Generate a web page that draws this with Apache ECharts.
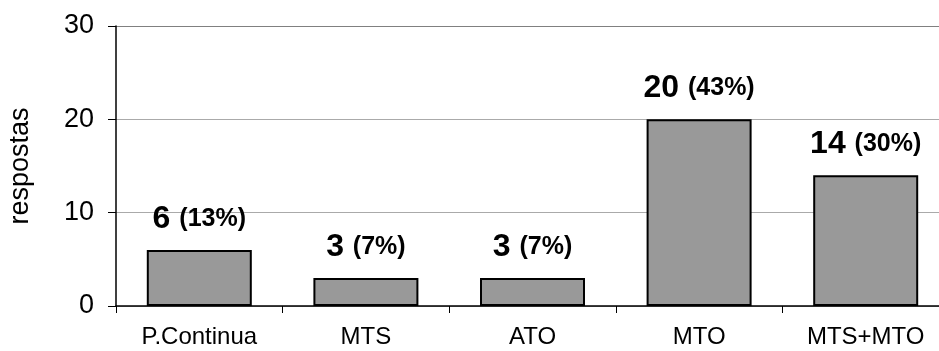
<!DOCTYPE html>
<html>
<head>
<meta charset="utf-8">
<script src="https://cdn.jsdelivr.net/npm/echarts@6/dist/echarts.min.js"></script>
<style>
  html, body { margin: 0; padding: 0; background: #fff; overflow: hidden; }
  #chart { width: 939px; height: 351px; }
</style>
</head>
<body>
<div id="chart"></div>
<script>
// Production strategy responses
const categories = ['P.Continua', 'MTS', 'ATO', 'MTO', 'MTS+MTO'];
const respostas = [6, 3, 3, 20, 14];
const percentages = ['13%', '7%', '7%', '43%', '30%'];
const yTicks = [0, 10, 20, 30];

const chart = echarts.init(document.getElementById('chart'), null, { renderer: 'canvas' });

const font = 'Arial, "Liberation Sans", sans-serif';

chart.setOption({
  animation: false,
  backgroundColor: '#ffffff',
  // plot area runs a little past the right edge of the canvas
  grid: {
    left: 116, width: 833, top: 26, height: 280,
    containLabel: false,
    outerBoundsMode: 'none'
  },
  xAxis: {
    type: 'category',
    data: categories,
    axisLine: { lineStyle: { color: '#000', width: 1.5 } },
    axisTick: { show: true, length: 7, lineStyle: { color: '#000', width: 1 } },
    axisLabel: { color: '#000', fontFamily: font, fontSize: 24, margin: 19 },
    splitLine: { show: false }
  },
  yAxis: {
    type: 'value',
    min: yTicks[0],
    max: yTicks[yTicks.length - 1],
    interval: 10,
    name: 'respostas',
    nameLocation: 'middle',
    nameGap: 82,
    nameRotate: 90,
    nameTextStyle: { color: '#000', fontFamily: font, fontSize: 27 },
    axisLine: { show: true, lineStyle: { color: '#000', width: 1.5 } },
    axisTick: { show: true, length: 8, lineStyle: { color: '#000', width: 1 } },
    axisLabel: { color: '#000', fontFamily: font, fontSize: 27, margin: 22 },
    splitLine: { show: true, lineStyle: { color: ['#aaa', '#aaa', '#aaa', '#808080'], width: 1 } }
  },
  series: [{
    type: 'bar',
    data: respostas,
    barWidth: 105,
    itemStyle: { color: '#999999', borderColor: '#000', borderWidth: 2 },
    label: {
      show: true,
      position: 'top',
      distance: 15,
      formatter: p => '{n|' + p.value + ' }{p|(' + percentages[p.dataIndex] + ')}',
      rich: {
        n: { fontFamily: font, fontSize: 32, fontWeight: 'bold', color: '#000' },
        p: { fontFamily: font, fontSize: 25, fontWeight: 'bold', color: '#000' }
      }
    }
  }]
});
</script>
</body>
</html>
